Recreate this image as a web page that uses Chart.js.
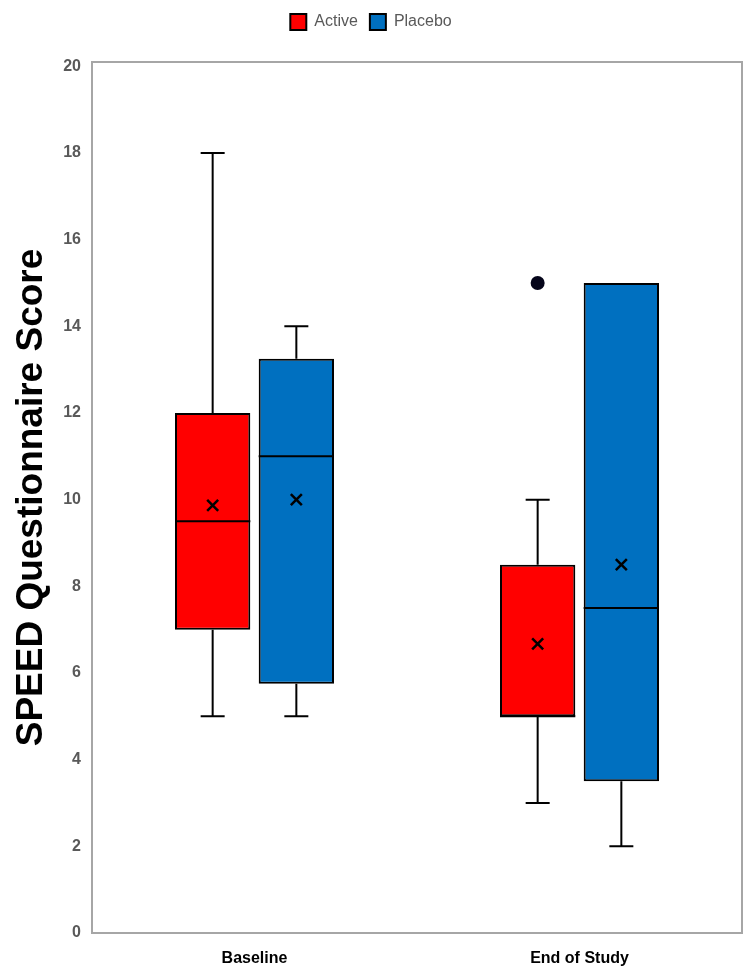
<!DOCTYPE html>
<html><head><meta charset="utf-8">
<script src="https://cdn.jsdelivr.net/npm/chart.js@4.4.1/dist/chart.umd.min.js"></script>
<style>html,body{margin:0;padding:0;background:#fff}#wrap{width:750px;height:974px;position:relative}</style>
</head><body><div id="wrap"><canvas id="c"></canvas></div>
<script>
// ---- data ----
const categories = ['Baseline', 'End of Study'];
const seriesNames = ['Active', 'Placebo'];
const activeMin = [5, 3];
const activeQ1 = [7, 5];
const activeMedian = [9.5, 5];
const activeQ3 = [12, 8.5];
const activeMax = [18, 10];
const activeMean = [9.87, 6.67];
const activeOutliers = [[], [15]];
const placeboMin = [5, 2];
const placeboQ1 = [5.75, 3.5];
const placeboMedian = [11, 7.5];
const placeboQ3 = [13.25, 15];
const placeboMax = [14, 15];
const placeboMean = [10, 8.5];
const placeboOutliers = [[], []];
const yTicks = [0, 2, 4, 6, 8, 10, 12, 14, 16, 18, 20];
const yTitle = 'SPEED Questionnaire Score';

const FONT = "'Liberation Sans', Arial, sans-serif";

const boxExtras = {
  id: 'boxExtras',
  afterInit(chart) {
    const lg = chart.legend;
    if (lg && !lg._padded) {
      const orig = lg.fit.bind(lg);
      lg.fit = function () { orig(); this.height += 22; };
      lg._padded = true;
    }
  },
  beforeDraw(chart) {
    const a = chart.chartArea, ctx = chart.ctx;
    ctx.save();
    ctx.strokeStyle = '#a6a6a6';
    ctx.lineWidth = 2;
    ctx.strokeRect(a.left, a.top, a.right - a.left, a.bottom - a.top);
    ctx.restore();
  },
  afterDatasetsDraw(chart) {
    const ctx = chart.ctx, y = chart.scales.y;
    chart.data.datasets.forEach((ds, d) => {
      const meta = chart.getDatasetMeta(d);
      const s = ds.stats;
      meta.data.forEach((el, i) => {
        const x = el.x, w = el.width;
        const cap = 12;
        ctx.save();
        ctx.strokeStyle = '#000';
        ctx.lineWidth = 2;
        ctx.lineCap = 'butt';
        if (s.max[i] > s.q3[i]) {
          ctx.beginPath();
          ctx.moveTo(x, y.getPixelForValue(s.q3[i]));
          ctx.lineTo(x, y.getPixelForValue(s.max[i]));
          ctx.moveTo(x - cap, y.getPixelForValue(s.max[i]));
          ctx.lineTo(x + cap, y.getPixelForValue(s.max[i]));
          ctx.stroke();
        }
        if (s.min[i] < s.q1[i]) {
          ctx.beginPath();
          ctx.moveTo(x, y.getPixelForValue(s.q1[i]));
          ctx.lineTo(x, y.getPixelForValue(s.min[i]));
          ctx.moveTo(x - cap, y.getPixelForValue(s.min[i]));
          ctx.lineTo(x + cap, y.getPixelForValue(s.min[i]));
          ctx.stroke();
        }
        const my = y.getPixelForValue(s.median[i]);
        ctx.beginPath();
        ctx.moveTo(x - w / 2, my);
        ctx.lineTo(x + w / 2, my);
        ctx.stroke();
        const ey = y.getPixelForValue(s.mean[i]);
        const r = 5.5;
        ctx.lineWidth = 2.5;
        ctx.beginPath();
        ctx.moveTo(x - r, ey - r); ctx.lineTo(x + r, ey + r);
        ctx.moveTo(x - r, ey + r); ctx.lineTo(x + r, ey - r);
        ctx.stroke();
        ctx.fillStyle = '#05051a';
        s.outliers[i].forEach(v => {
          ctx.beginPath();
          ctx.arc(x, y.getPixelForValue(v), 7, 0, Math.PI * 2);
          ctx.fill();
        });
        ctx.restore();
      });
    });
  }
};

const toRanges = (lo, hi) => lo.map((v, i) => [v, hi[i]]);

new Chart(document.getElementById('c'), {
  type: 'bar',
  data: {
    labels: categories,
    datasets: [
      {
        label: seriesNames[0],
        data: toRanges(activeQ1, activeQ3),
        backgroundColor: '#ff0000',
        borderColor: '#000000',
        borderWidth: 2,
        borderSkipped: false,
        stats: { min: activeMin, q1: activeQ1, median: activeMedian, q3: activeQ3, max: activeMax, mean: activeMean, outliers: activeOutliers }
      },
      {
        label: seriesNames[1],
        data: toRanges(placeboQ1, placeboQ3),
        backgroundColor: '#0070c0',
        borderColor: '#000000',
        borderWidth: 2,
        borderSkipped: false,
        stats: { min: placeboMin, q1: placeboQ1, median: placeboMedian, q3: placeboQ3, max: placeboMax, mean: placeboMean, outliers: placeboOutliers }
      }
    ]
  },
  options: {
    responsive: true,
    maintainAspectRatio: false,
    animation: false,
    categoryPercentage: 0.515,
    barPercentage: 0.9,
    layout: { padding: { left: 0, right: 8, top: 2, bottom: 0 } },
    plugins: {
      legend: {
        position: 'top',
        labels: {
          boxWidth: 16, boxHeight: 16,
          color: '#595959',
          font: { family: FONT, size: 16 },
          padding: 12
        }
      },
      tooltip: { enabled: false }
    },
    scales: {
      x: {
        grid: { display: false },
        border: { display: false },
        ticks: { color: '#000', font: { family: FONT, size: 16, weight: 'bold' }, padding: 8 },
        afterFit(s) { s.height = 41; }
      },
      y: {
        min: 0, max: 20.1,
        grid: { display: false },
        border: { display: false },
        afterBuildTicks(s) { s.ticks = yTicks.map(v => ({ value: v })); },
        ticks: { color: '#595959', font: { family: FONT, size: 16, weight: 'bold' }, padding: 3 },
        title: { display: true, text: yTitle, color: '#000', font: { family: FONT, size: 37, weight: 'bold' }, padding: { top: 10, bottom: 0 } },
        afterFit(s) { s.width = 92; }
      }
    }
  },
  plugins: [boxExtras]
});
</script>
</body></html>
